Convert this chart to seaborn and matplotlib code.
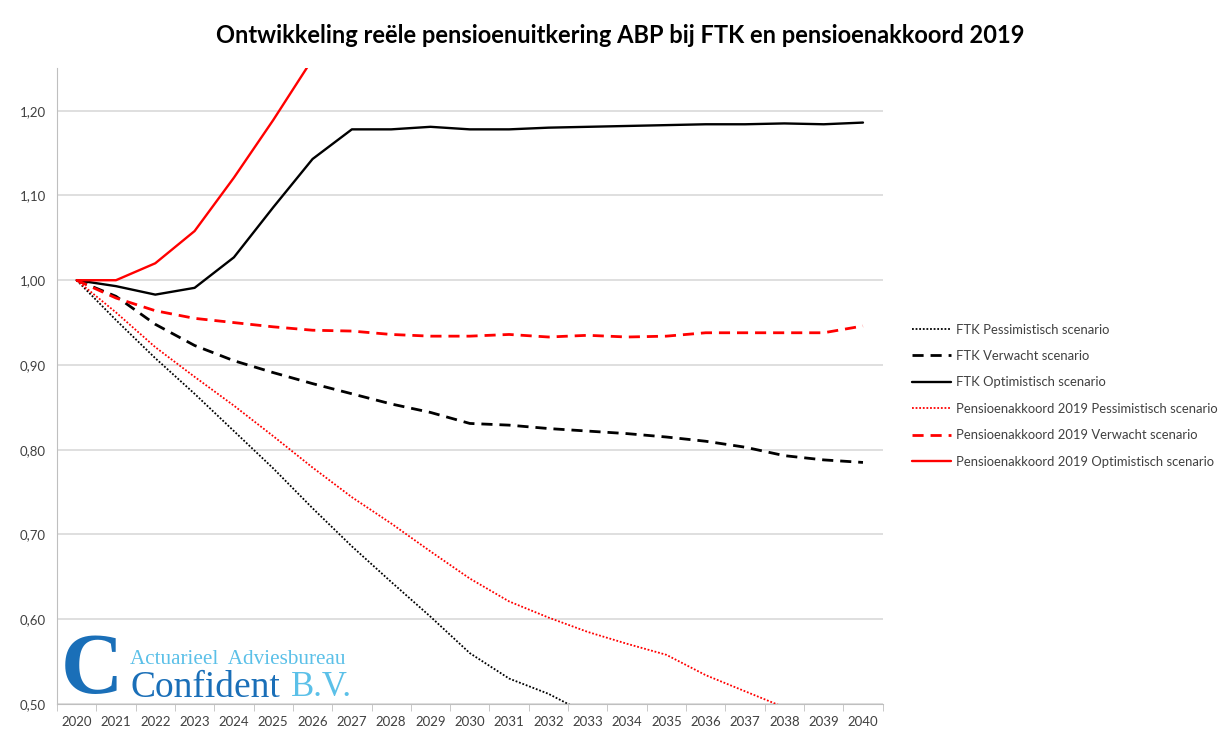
import numpy as np
import pandas as pd
import matplotlib
matplotlib.use('Agg')
import matplotlib.pyplot as plt
import seaborn as sns

# data
years = list(range(2020, 2041))

ftk_pess = [1.000, 0.953, 0.908, 0.866, 0.822, 0.778, 0.731, 0.686, 0.644, 0.603,
            0.560, 0.530, 0.512, 0.488, None, None, None, None, None, None, None]
ftk_verw = [1.000, 0.981, 0.948, 0.923, 0.905, 0.891, 0.878, 0.866, 0.854, 0.844,
            0.831, 0.829, 0.825, 0.822, 0.819, 0.815, 0.810, 0.803, 0.793, 0.788, 0.785]
ftk_opt = [1.000, 0.993, 0.983, 0.991, 1.027, 1.086, 1.143, 1.178, 1.178, 1.181,
           1.178, 1.178, 1.180, 1.181, 1.182, 1.183, 1.184, 1.184, 1.185, 1.184, 1.186]
pa_pess = [1.000, 0.962, 0.921, 0.886, 0.852, 0.816, 0.779, 0.744, 0.713, 0.680,
           0.648, 0.621, 0.602, 0.585, 0.571, 0.558, 0.534, 0.515, 0.496, 0.478, None]
pa_verw = [1.000, 0.979, 0.964, 0.955, 0.950, 0.945, 0.941, 0.940, 0.936, 0.934,
           0.934, 0.936, 0.933, 0.935, 0.933, 0.934, 0.938, 0.938, 0.938, 0.938, 0.946]
pa_opt = [1.000, 1.000, 1.020, 1.058, 1.121, 1.189, 1.261, None, None, None,
          None, None, None, None, None, None, None, None, None, None, None]

series = [
    ('FTK Pessimistisch scenario', ftk_pess, 'black', (0, (1, 1)), 1.3),
    ('FTK Verwacht scenario', ftk_verw, 'black', (0, (4, 2.5)), 2.0),
    ('FTK Optimistisch scenario', ftk_opt, 'black', '-', 1.7),
    ('Pensioenakkoord 2019 Pessimistisch scenario', pa_pess, 'red', (0, (1, 1)), 1.3),
    ('Pensioenakkoord 2019 Verwacht scenario', pa_verw, 'red', (0, (4, 2.5)), 2.0),
    ('Pensioenakkoord 2019 Optimistisch scenario', pa_opt, 'red', '-', 1.7),
]

sns.set_style('white', {'axes.edgecolor': '#bfbfbf'})
plt.rcParams['font.family'] = ['Lato', 'DejaVu Sans']

fig = plt.figure(figsize=(12.31, 7.34), dpi=100)
ax = fig.add_axes([0.0463, 0.0409, 0.6707, 0.866])

for name, vals, col, ls, lw in series:
    df = pd.DataFrame({'jaar': years, 'waarde': pd.array(vals, dtype='Float64').astype(float)})
    sns.lineplot(data=df, x='jaar', y='waarde', ax=ax, color=col, linestyle=ls,
                 linewidth=lw, label=name)

ax.set_xlim(2019.5, 2040.5)
ax.set_ylim(0.5, 1.25)
ax.set_yticks(np.arange(0.5, 1.21, 0.1))
ax.set_yticklabels(['{:.2f}'.format(v).replace('.', ',') for v in np.arange(0.5, 1.21, 0.1)])
ax.set_xticks(years)
ax.set_xticklabels([str(y) for y in years])
ax.set_xticks(np.arange(2019.5, 2041, 1), minor=True)
ax.tick_params(axis='x', which='major', length=0, labelsize=9.5, colors='#404040', pad=9)
ax.tick_params(axis='x', which='minor', length=5, color='#bfbfbf', direction='out', bottom=True)
ax.tick_params(axis='y', length=0, labelsize=9.5, colors='#404040', pad=8)
ax.grid(axis='y', color='#d9d9d9', linewidth=1.2)
ax.set_axisbelow(True)
for s in ['top', 'right']:
    ax.spines[s].set_visible(False)
ax.set_xlabel('')
ax.set_ylabel('')

ax.legend(loc='upper left', bbox_to_anchor=(0.731, 0.575), bbox_transform=fig.transFigure,
          frameon=False, fontsize=9.4, handlelength=3.0, handletextpad=0.4,
          labelspacing=1.1, labelcolor='#404040')

fig.text(0.504, 0.952, 'Ontwikkeling reële pensioenuitkering ABP bij FTK en pensioenakkoord 2019',
         ha='center', va='center', fontsize=17, fontweight='bold', color='black')

# logo
fig.text(0.049, 0.084, 'C', fontsize=62, fontweight='bold', color='#1a6fb8',
         family='Liberation Serif', ha='left', va='center')
fig.text(0.106, 0.102, 'Actuarieel  Adviesbureau', fontsize=15.2, color='#5bc0e8',
         family='Liberation Serif', ha='left', va='center')
fig.text(0.106, 0.063, 'Confident', fontsize=27, color='#1a6fb8',
         family='Liberation Serif', ha='left', va='center')
fig.text(0.236, 0.063, 'B.V.', fontsize=25, color='#5bc0e8',
         family='Liberation Serif', ha='left', va='center')

fig.savefig('out.png', dpi=100)
